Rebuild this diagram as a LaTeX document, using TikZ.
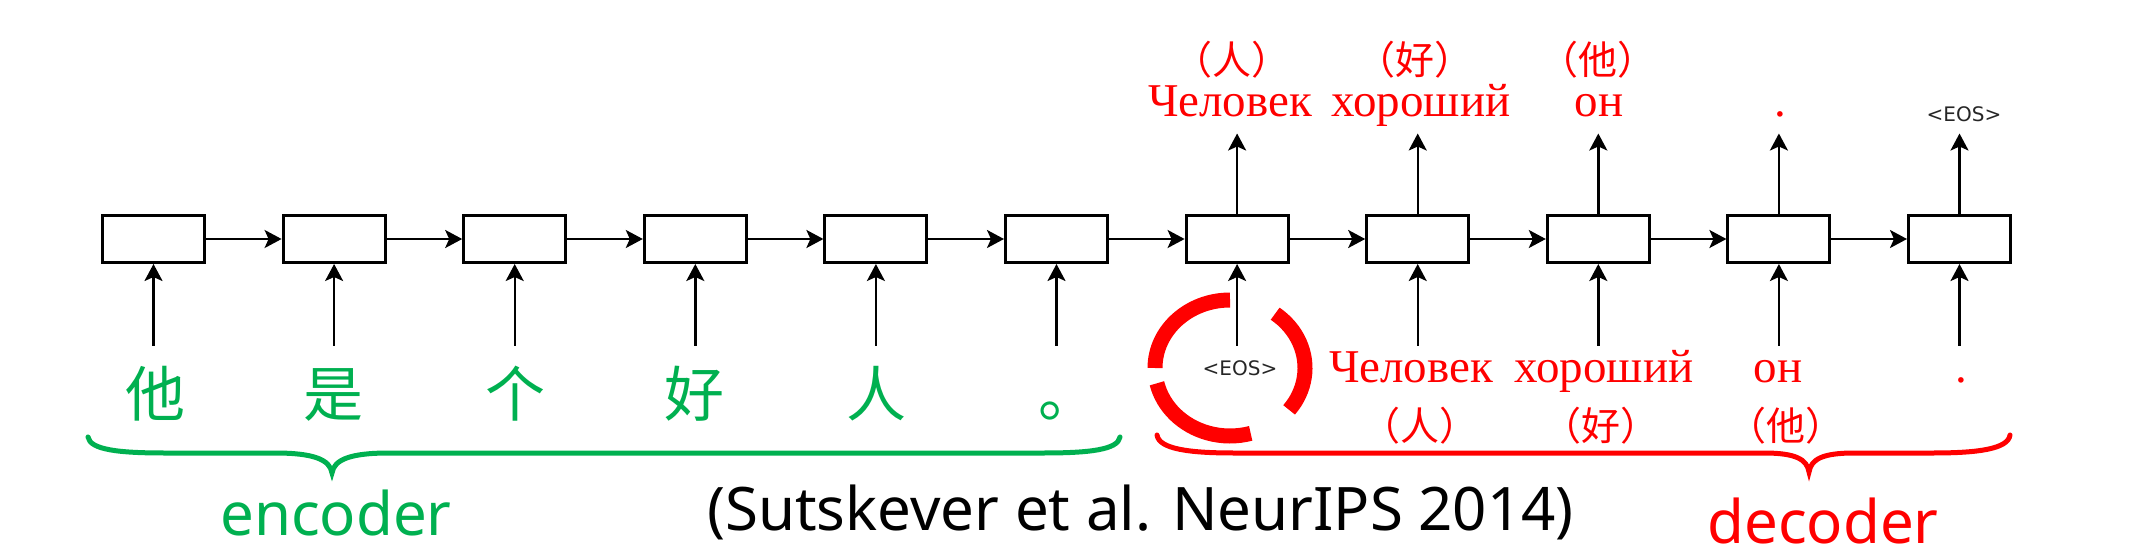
\documentclass[tikz,border=0pt]{standalone}
\usepackage{fontspec}
\newfontfamily\cjk{Noto Sans CJK SC}
\newfontfamily\rufont{Liberation Serif}
\newfontfamily\eosfont{DejaVu Sans}
\newfontfamily\latfont{Noto Sans}
\usetikzlibrary{arrows.meta}
\definecolor{encgreen}{RGB}{0,176,80}
\definecolor{decred}{RGB}{255,0,0}
\begin{document}
\begin{tikzpicture}[x=1pt,y=-1pt,
  cell/.style={draw, line width=3pt, minimum width=102pt, minimum height=47pt, inner sep=0pt},
  flow/.style={line width=2.4pt, -{Stealth[length=17pt,width=18pt,inset=4pt]}},
  rulab/.style={text=decred, font=\rufont\fontsize{47}{56}\selectfont, inner sep=0pt, anchor=base},
  cnlab/.style={text=decred, font=\cjk\fontsize{39}{46}\selectfont, inner sep=0pt, anchor=base},
  zhlab/.style={text=encgreen, font=\cjk\fontsize{60}{70}\selectfont, inner sep=0pt, anchor=base},
  eoslab/.style={text=black!85, font=\eosfont\fontsize{20}{24}\selectfont, inner sep=0pt, anchor=base},
  biglab/.style={font=\latfont\fontsize{60}{72}\selectfont, inner sep=0pt, anchor=base},
  brace/.style={line width=5pt, line cap=round}]
\useasboundingbox (0,0) rectangle (2154,556);
% cells
\foreach \i in {1,...,11} {
  \node[cell] (b\i) at ({153.5+(\i-1)*180.6},239) {};
}
% recurrent arrows
\foreach \i [evaluate=\i as \j using int(\i+1)] in {1,...,10} {
  \draw[flow] (b\i) -- (b\j);
}
% input arrows
\foreach \i in {1,...,11} {
  \path (b\i.south) ++(0,81.5) coordinate (in\i);
  \draw[flow] (in\i) -- (b\i.south);
}
% output arrows
\foreach \i in {7,...,11} {
  \path (b\i.north) ++(0,-80.5) coordinate (out\i);
  \draw[flow] (b\i.north) -- (out\i);
}
% encoder inputs
\node[zhlab] (z1) at (155,416) {他};
\node[zhlab] (z2) at (333,416) {是};
\node[zhlab] (z3) at (515,416) {个};
\node[zhlab] (z4) at (694,416) {好};
\node[zhlab] (z5) at (876,416) {人};
\node[zhlab] (z6) at (1068,416) {。};
% decoder inputs
\node[eoslab] (e7) at (1240,375) {<EOS>};
\node[rulab] (r8) at (1411,382) {Человек};
\node[rulab] (r9) at (1604,382) {хороший};
\node[rulab] (r10) at (1778,382) {он};
\node[rulab] (r11) at (1961,382) {.};
\node[cnlab] (c8) at (1420,440) {（人）};
\node[cnlab] (c9) at (1601,440) {（好）};
\node[cnlab] (c10) at (1786,440) {（他）};
% decoder outputs
\node[cnlab] (t7) at (1232,75) {（人）};
\node[cnlab] (t8) at (1415,75) {（好）};
\node[cnlab] (t9) at (1598,75) {（他）};
\node[rulab] (o7) at (1230,117) {Человек};
\node[rulab] (o8) at (1421,117) {хороший};
\node[rulab] (o9) at (1599,117) {он};
\node[rulab] (o10) at (1780,117) {.};
\node[eoslab] (o11) at (1964,122) {<EOS>};
% red broken circle
\coordinate (cc) at (1230,368);
\draw[decred, line width=15pt] (cc) ++(-90:75 and 68) arc[start angle=-90, end angle=-180, x radius=75, y radius=68];
\draw[decred, line width=15pt] (cc) ++(-193:75 and 68) arc[start angle=-193, end angle=-286, x radius=75, y radius=68];
\draw[decred, line width=15pt] (cc) ++(-322:75 and 68) arc[start angle=-322, end angle=-413, x radius=75, y radius=68];
% braces
\draw[encgreen, brace] (88,437) .. controls (90,450) and (120,453) .. (165,453) -- (275,453) .. controls (312,453) and (330,459) .. (332,473) .. controls (334,459) and (352,453) .. (389,453) -- (1043,453) .. controls (1088,453) and (1118,450) .. (1120,437);
\draw[decred, brace] (1157,435) .. controls (1159,449) and (1189,453) .. (1234,453) -- (1764,453) .. controls (1795,453) and (1807,459) .. (1809,472) .. controls (1811,459) and (1823,453) .. (1854,453) -- (1933,453) .. controls (1978,453) and (2008,449) .. (2010,435);
% bottom texts
\node[biglab, text=encgreen] (enc) at (336,535) {encoder};
\node[biglab, text=decred] (dec) at (1823,543) {decoder};
\node[biglab, anchor=base west] (cite) at (707,530) {(Sutskever et al. NeurIPS 2014)};
\end{tikzpicture}
\end{document}
